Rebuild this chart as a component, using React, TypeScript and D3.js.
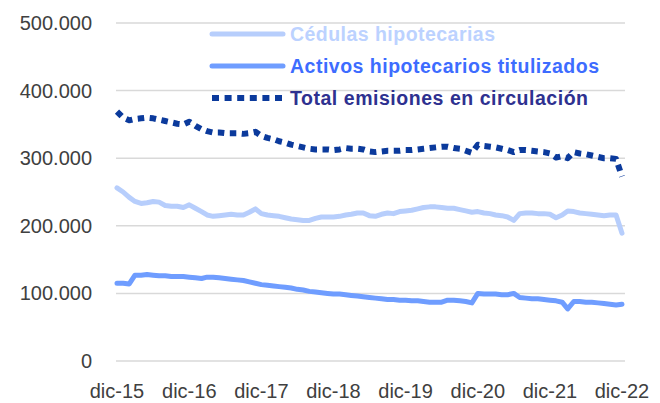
import { useMemo } from "react";
import * as d3 from "d3";

const WIDTH = 660;
const HEIGHT = 403;
const PLOT = { left: 117, right: 622, top: 23, bottom: 361, gridRight: 625 };

// monthly, dic-15 .. dic-22 (thousands)
const cedulas = [
  256, 250, 242, 236, 233, 234, 236, 235, 230, 229, 229, 227, 231, 226, 221, 216, 214, 215, 216, 217, 216, 216,
  220, 225, 218, 216, 215, 214, 212, 210, 209, 208, 208, 211, 213, 213, 213, 214, 216, 217, 219, 219, 215, 214,
  217, 219, 218, 221, 222, 223, 225, 227, 228, 228, 227, 226, 226, 224, 222, 220, 221, 219, 218, 216, 215, 213,
  208, 218, 219, 219, 218, 218, 217, 212, 216, 222, 221, 219, 218, 217, 216, 215, 216, 216, 189,
];
const activos = [
  115, 115, 114, 127, 127, 128, 127, 126, 126, 125, 125, 125, 124, 123, 122, 124, 124, 123, 122, 121, 120, 119,
  117, 115, 113, 112, 111, 110, 109, 108, 106, 105, 103, 102, 101, 100, 99, 99, 98, 97, 96, 95, 94, 93, 92, 91,
  91, 90, 90, 89, 89, 88, 87, 87, 87, 90, 90, 89, 88, 86, 100, 99, 99, 99, 98, 98, 100, 94, 93, 92, 92, 91, 90,
  89, 87, 77, 88, 88, 87, 87, 86, 85, 84, 83, 84,
];
const total = [
  369, 360, 356, 358, 359, 360, 359, 357, 355, 353, 351, 350, 354, 348, 343, 340, 338, 338, 337, 337, 337, 336,
  337, 339, 333, 330, 328, 325, 323, 320, 318, 316, 314, 313, 313, 313, 312, 313, 315, 314, 314, 313, 310, 309,
  310, 311, 311, 311, 312, 312, 313, 314, 315, 316, 317, 317, 315, 314, 311, 308, 320, 318, 317, 316, 314, 312,
  309, 312, 312, 311, 310, 309, 307, 301, 303, 300, 309, 307, 306, 304, 302, 300, 300, 299, 273,
];

const xLabels = ["dic-15", "dic-16", "dic-17", "dic-18", "dic-19", "dic-20", "dic-21", "dic-22"];
const yTicks = [0, 100000, 200000, 300000, 400000, 500000];

const seriesNames = ["Cédulas hipotecarias", "Activos hipotecarios titulizados", "Total emisiones en circulación"];
const lineColors = ["#b7cefc", "#6f9dff", "#0b3a9c"];
const textColors = ["#bcd2ff", "#3d6cff", "#2e3190"];
const legendWidths = [205, 309, 298];

const fmt = (v: number) => (v === 0 ? "0" : d3.format(",")(v).replace(/,/g, "."));
const FONT = "'Liberation Sans', Arial, sans-serif";

export default function App() {
  const months = useMemo(() => d3.timeMonth.range(new Date(2015, 11, 1), new Date(2023, 0, 1)), []);
  const x = d3.scaleTime().domain([months[0], months[months.length - 1]]).range([PLOT.left, PLOT.right]);
  const y = d3.scaleLinear().domain([0, 500000]).range([PLOT.bottom, PLOT.top]);

  const line = d3
    .line<number>()
    .x((_, i) => x(months[i]))
    .y((d) => y(d * 1000));

  const data = [cedulas, activos, total];

  return (
    <svg width={WIDTH} height={HEIGHT} style={{ position: "absolute", left: 0, top: 0, background: "#fff" }}>
      {yTicks.map((t) => (
        <g key={t}>
          <line x1={PLOT.left - 1} x2={PLOT.gridRight} y1={y(t)} y2={y(t)} stroke="#d9d9d9" strokeWidth={1.5} />
          <text
            x={92}
            y={y(t)}
            textAnchor="end"
            dominantBaseline="central"
            fontFamily={FONT}
            fontSize={20}
            fill="#404040"
          >
            {fmt(t)}
          </text>
        </g>
      ))}
      {xLabels.map((lab, i) => (
        <text
          key={lab}
          x={x(months[i * 12])}
          y={391}
          textAnchor="middle"
          dominantBaseline="central"
          fontFamily={FONT}
          fontSize={20}
          fill="#404040"
        >
          {lab}
        </text>
      ))}
      {data.map((d, i) => (
        <path
          key={i}
          d={line(d) || ""}
          fill="none"
          stroke={lineColors[i]}
          strokeWidth={i === 2 ? 6 : 5}
          strokeLinejoin="round"
          strokeLinecap={i === 2 ? "butt" : "round"}
          strokeDasharray={i === 2 ? "6.5 5.5" : undefined}
        />
      ))}
      {seriesNames.map((name, i) => {
        const ly = 34 + i * 32;
        return (
          <g key={name}>
            <line
              x1={212}
              x2={i === 2 ? 286 : 283}
              y1={ly}
              y2={ly}
              stroke={lineColors[i]}
              strokeWidth={i === 2 ? 6 : 5}
              strokeLinecap={i === 2 ? "butt" : "round"}
              strokeDasharray={i === 2 ? "7 5.6" : undefined}
            />
            <text
              x={290}
              y={ly}
              dominantBaseline="central"
              fontFamily={FONT}
              fontWeight="bold"
              fontSize={19.5}
              fill={textColors[i]}
              textLength={legendWidths[i]}
              lengthAdjust="spacing"
            >
              {name}
            </text>
          </g>
        );
      })}
    </svg>
  );
}
